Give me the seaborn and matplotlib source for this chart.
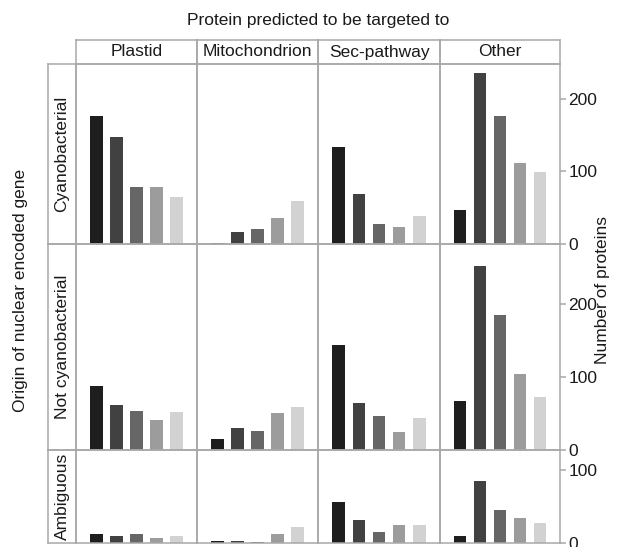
import numpy as np
import pandas as pd
import matplotlib
matplotlib.use("Agg")
import matplotlib.pyplot as plt
import seaborn as sns

# ---- data ----
targets = ["Plastid", "Mitochondrion", "Sec-pathway", "Other"]
origins = ["Cyanobacterial", "Not cyanobacterial", "Ambiguous"]
groups = ["1", "2", "3", "4", "5"]

cyano_plastid = [176, 148, 79, 78, 65]
cyano_mito = [2, 16, 20, 36, 59]
cyano_sec = [134, 69, 27, 24, 39]
cyano_other = [47, 235, 176, 112, 99]

notcyano_plastid = [87, 62, 54, 41, 52]
notcyano_mito = [15, 30, 26, 51, 59]
notcyano_sec = [144, 64, 47, 25, 44]
notcyano_other = [67, 252, 185, 104, 72]

ambig_plastid = [13, 9, 13, 7, 9]
ambig_mito = [3, 3, 2, 13, 22]
ambig_sec = [57, 31, 15, 25, 25]
ambig_other = [10, 85, 46, 34, 28]

row_ticks = [[0, 100, 200], [0, 100, 200], [0, 100]]
row_ylim = [248, 282, 128]

values = {
    "Cyanobacterial": [cyano_plastid, cyano_mito, cyano_sec, cyano_other],
    "Not cyanobacterial": [notcyano_plastid, notcyano_mito, notcyano_sec, notcyano_other],
    "Ambiguous": [ambig_plastid, ambig_mito, ambig_sec, ambig_other],
}

records = []
for o in origins:
    for t, vals in zip(targets, values[o]):
        for g, v in zip(groups, vals):
            records.append({"origin": o, "target": t, "group": g, "n": v})
df = pd.DataFrame(records)

palette = ["#1e1e1e", "#414141", "#666666", "#9c9c9c", "#d2d2d2"]

# ---- style ----
sns.set_theme(style="white")
plt.rcParams["font.family"] = ["Liberation Sans", "DejaVu Sans"]

W, H = 627, 547
fig = plt.figure(figsize=(W / 100, H / 100), dpi=100)

col_x = [76, 197, 318, 440, 560]
row_y = [64, 244, 450, 543]
line_col = "#a8a8a8"
lw = 1.1
txt_col = "#1a1a1a"
fs = 12.5


def rect(x0, y0, x1, y1):
    return [x0 / W, 1 - y1 / H, (x1 - x0) / W, (y1 - y0) / H]


def style_box(ax):
    ax.set_xticks([])
    ax.set_yticks([])
    for s in ax.spines.values():
        s.set_color(line_col)
        s.set_linewidth(lw)
    ax.set_facecolor("none")


# column strips
for j, t in enumerate(targets):
    sax = fig.add_axes(rect(col_x[j], 40, col_x[j + 1], 64))
    style_box(sax)
    sax.text(0.5, 0.5, t, ha="center", va="center", fontsize=fs, color=txt_col,
             transform=sax.transAxes)

# row strips
for i, o in enumerate(origins):
    sax = fig.add_axes(rect(48, row_y[i], 76, row_y[i + 1]))
    style_box(sax)
    sax.text(0.5, 0.5, o, ha="center", va="center", fontsize=fs, color=txt_col,
             rotation=90, transform=sax.transAxes)

# panels
for i, o in enumerate(origins):
    for j, t in enumerate(targets):
        ax = fig.add_axes(rect(col_x[j], row_y[i], col_x[j + 1], row_y[i + 1]))
        sub = df[(df.origin == o) & (df.target == t)]
        sns.barplot(data=sub, x="group", y="n", hue="group", order=groups,
                    hue_order=groups, palette=palette, legend=False,
                    width=0.62, saturation=1, linewidth=0, ax=ax)
        ax.set_xlim(-1.02, 5.02)
        ax.set_ylim(0, row_ylim[i])
        ax.set_xlabel("")
        ax.set_ylabel("")
        ax.set_xticks([])
        for s in ax.spines.values():
            s.set_color(line_col)
            s.set_linewidth(lw)
        ax.set_facecolor("none")
        if j == 3:
            ax.yaxis.tick_right()
            ax.set_yticks(row_ticks[i])
            ax.tick_params(axis="y", right=True, length=4, width=lw, color=line_col,
                           labelsize=fs, labelcolor=txt_col, pad=2)
        else:
            ax.set_yticks([])

fig.text(318 / W, 1 - 20 / H, "Protein predicted to be targeted to", ha="center",
         va="center", fontsize=fs, color=txt_col)
fig.text(21 / W, 1 - 290 / H, "Origin of nuclear encoded gene", ha="center",
         va="center", rotation=90, fontsize=fs, color=txt_col)
fig.text(603 / W, 1 - 290 / H, "Number of proteins", ha="center",
         va="center", rotation=90, fontsize=fs, color=txt_col)

fig.savefig("out.png", dpi=100)
